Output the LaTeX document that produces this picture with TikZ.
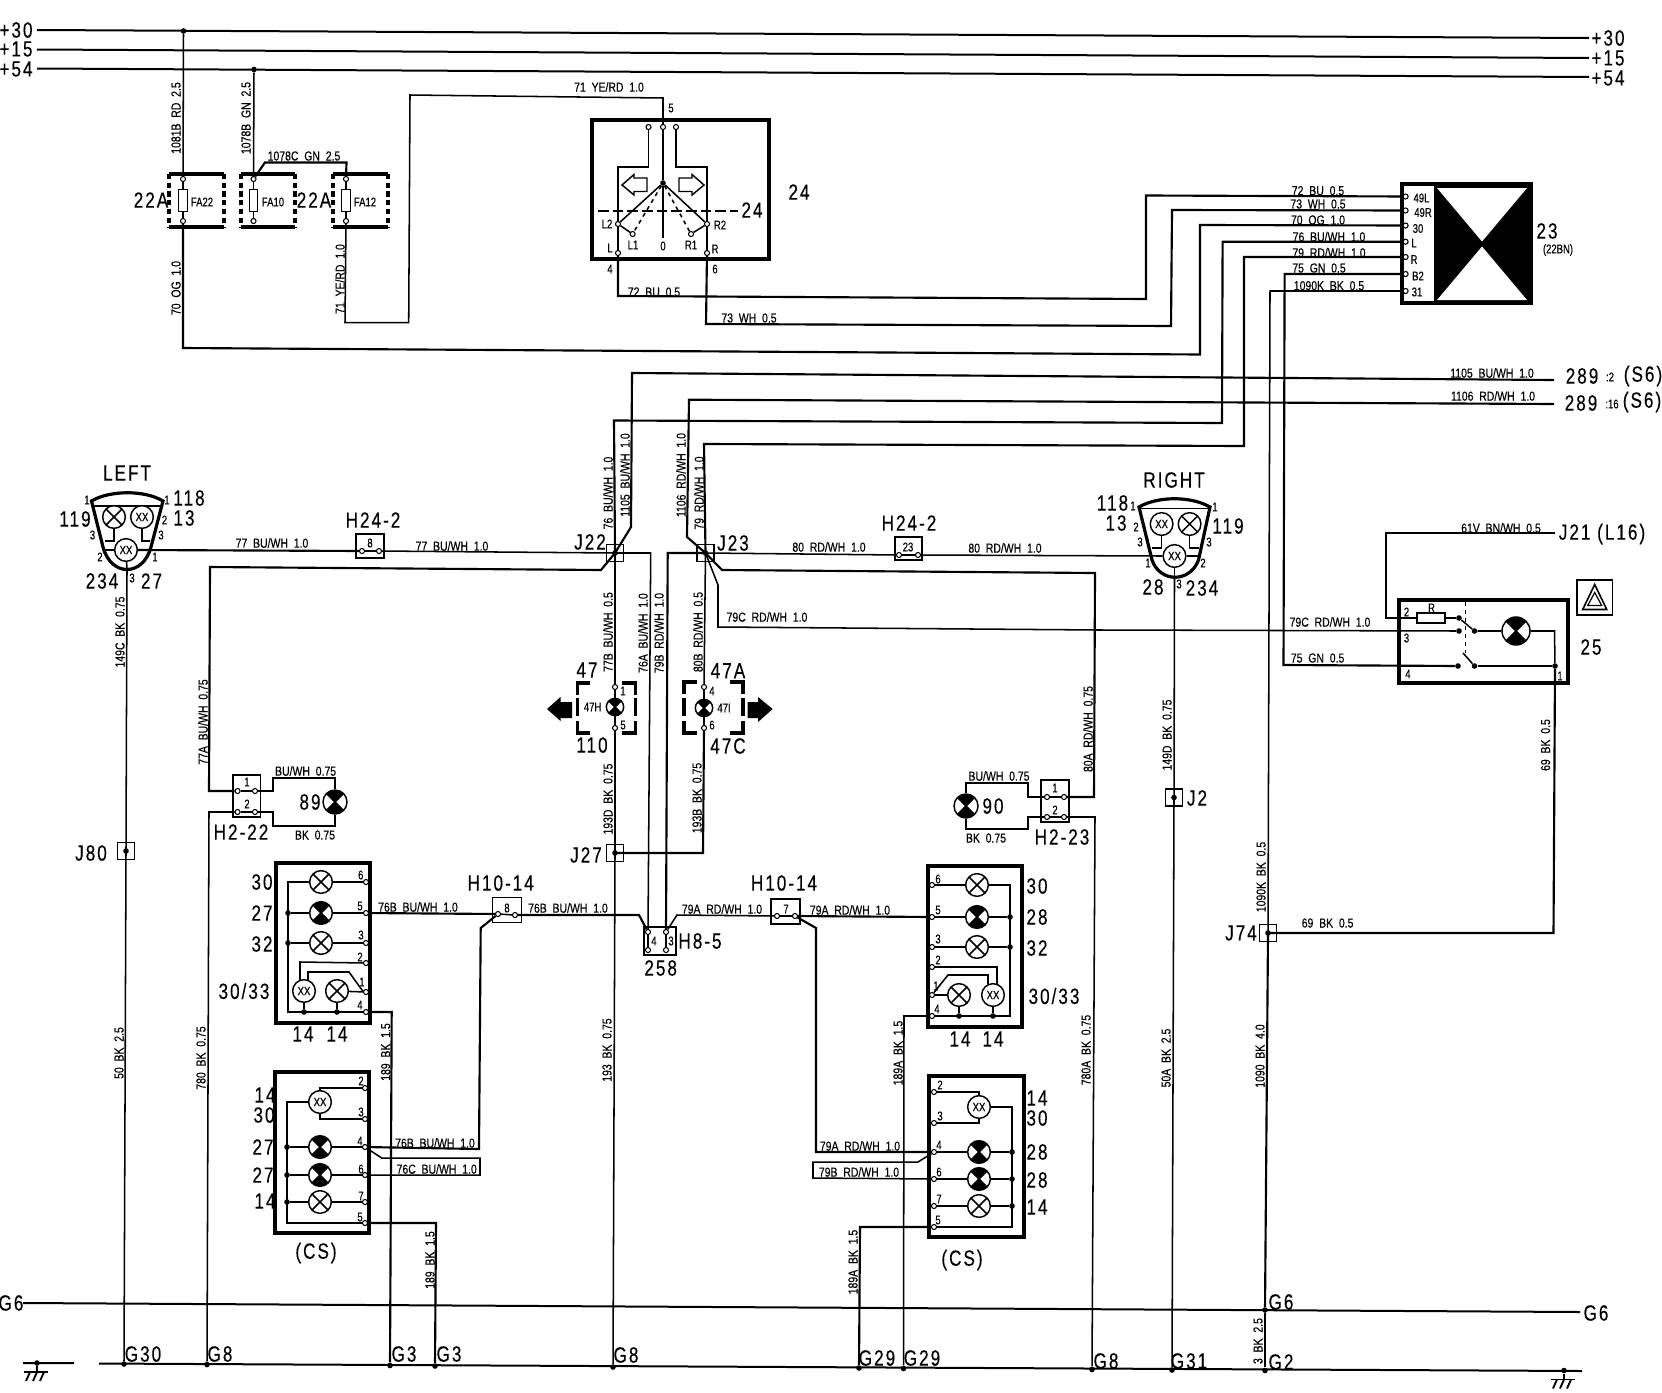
\documentclass[tikz,border=0pt]{standalone}
\usepackage{fontspec}
\setmainfont[FakeStretch=0.8,WordSpace=2,FakeBold=0.35]{Liberation Sans}
\newfontfamily\bigfont[FakeStretch=0.78,LetterSpace=9,FakeBold=0.25]{Liberation Sans}
\newfontfamily\smfont[FakeStretch=0.75,FakeBold=0.3]{Liberation Sans}
\newcounter{lab}
\tikzset{
 wire/.style={line width=1.15pt},
 hwire/.style={line width=1.6pt},
 busline/.style={line width=1.5pt},
 heavy/.style={line width=2.7pt},
 wl/.style={inner sep=0pt,font=\fontsize{9.8}{10}\selectfont},
 sl/.style={inner sep=0pt,font=\smfont\fontsize{9.5}{10}\selectfont},
 bl/.style={inner sep=0pt,font=\bigfont\fontsize{16.5}{17}\selectfont},
 term/.style={circle,draw,fill=white,line width=0.8pt,inner sep=0pt,minimum size=3.8pt},
 sdot/.style={circle,fill=black,inner sep=0pt,minimum size=4.2pt},
 jbox/.style={rectangle,draw,line width=1.1pt,inner sep=0pt,minimum size=12.5pt},
 hbox/.style={rectangle,draw,line width=1.1pt,inner sep=0pt},
 panel/.style={rectangle,draw,line width=2.7pt,inner sep=0pt},
 lampx/.style={circle,draw,line width=1.1pt,fill=white,inner sep=0pt,minimum size=#1,
   path picture={\draw[line width=1.1pt] (path picture bounding box.north west)--(path picture bounding box.south east)
      (path picture bounding box.north east)--(path picture bounding box.south west);}},
 lampx/.default=17pt,
 lampd/.style={circle,draw,line width=1.1pt,fill=white,inner sep=0pt,minimum size=#1,
   path picture={\fill[black] (path picture bounding box.center)--(path picture bounding box.north west)--(path picture bounding box.north east)--cycle
      (path picture bounding box.center)--(path picture bounding box.south west)--(path picture bounding box.south east)--cycle;
      \draw[line width=1.1pt] (path picture bounding box.north west)--(path picture bounding box.south east)
      (path picture bounding box.north east)--(path picture bounding box.south west);}},
 lampd/.default=17pt,
 lampxx/.style={circle,draw,line width=1.1pt,fill=white,inner sep=0pt,minimum size=17pt,font=\fontsize{9}{9}\selectfont},
}
\newcommand{\wirelab}[3]{\stepcounter{lab}\node[wl](lab\thelab) at (#1,#2) {#3};}
\newcommand{\wirevert}[3]{\stepcounter{lab}\node[wl,rotate=90](lab\thelab) at (#1,#2) {#3};}
\newcommand{\smlab}[3]{\stepcounter{lab}\node[sl](lab\thelab) at (#1,#2) {#3};}
\newcommand{\biglab}[3]{\stepcounter{lab}\node[bl](lab\thelab) at (#1,#2) {#3};}
\newcommand{\tm}[3]{\node[term](#1) at (#2,#3) {};}
\newcommand{\jn}[3]{\node[jbox](#1) at (#2,#3) {};\node[sdot] (#1d) at (#2,#3) {};}
\newcommand{\fusebox}[6]{% name x0 x1 termx text textx
 \node[minimum width=#3*0.75pt-#2*0.75pt,minimum height=39.75pt,inner sep=0pt] (#1) at ({(#2+#3)/2},200.5) {};
 \draw[heavy] (#1.north west)--(#1.north east) (#1.south west)--(#1.south east);
 \draw[heavy,dash pattern=on 4pt off 2.6pt] (#1.north west)--(#1.south west) (#1.north east)--(#1.south east);
 \node[rectangle,draw,line width=.9pt,fill=white,minimum width=6.5pt,minimum height=17pt,inner sep=0pt] (#1f) at (#4,200.5) {};
 \tm{#1a}{#4}{179}\tm{#1b}{#4}{221}
 \draw[wire] (#1a)--(#1f) (#1f)--(#1b);
 \smlab{#6}{202}{#5}
}
\newcommand{\gnd}[3]{% name x y
 \node[sdot] (#1) at (#2,#3) {};
 \draw[wire] (#1)--(#2,#3+9);
 \draw[line width=1.4pt] (#2-13,#3+9)--(#2+11,#3+9);
 \draw[line width=1.4pt] (#2-7,#3+9)--(#2-11,#3+18) (#2,#3+9)--(#2-4,#3+18) (#2+7,#3+9)--(#2+3,#3+18);
}
\begin{document}
\begin{tikzpicture}[x=0.75pt,y=-0.75pt]
\useasboundingbox (0,0) rectangle (1662,1392);
% ---------- buses
\coordinate (b30l) at (37,30); \coordinate (b30r) at (1589,38);
\coordinate (b15l) at (37,49.5); \coordinate (b15r) at (1589,58);
\coordinate (b54l) at (37,68.5); \coordinate (b54r) at (1589,77);
\draw[busline] (b30l)--(b30r) (b15l)--(b15r) (b54l)--(b54r);
\biglab{16}{30}{+30}\biglab{16}{49}{+15}\biglab{16}{69}{+54}
\biglab{1608}{38}{+30}\biglab{1608}{58}{+15}\biglab{1608}{78}{+54}
% grounds & G6
\coordinate (g6l) at (23,1303); \coordinate (g6r) at (1580,1312);
\draw[busline] (g6l)--(g6r);
\coordinate (gl0) at (23,1363); \coordinate (gl1) at (74,1363); \coordinate (gl2) at (99,1363.5); \coordinate (gl3) at (1582,1371);
\draw[busline] (gl0)--(gl1) (gl2)--(gl3);
\gnd{gndL}{37}{1363}\gnd{gndR}{1564}{1370.5}
\biglab{11}{1303}{G6}\biglab{1281}{1302}{G6}\biglab{1596}{1313}{G6}
\biglab{143}{1354}{G30}\biglab{220}{1354}{G8}\biglab{404}{1354}{G3}\biglab{449}{1354}{G3}
\biglab{626}{1355}{G8}\biglab{877}{1358}{G29}\biglab{922}{1358}{G29}
\biglab{1106}{1361}{G8}\biglab{1189}{1361}{G31}\biglab{1281}{1362}{G2}
\node[sdot] (g30) at (124,1364) {};\node[sdot] (g8a) at (207,1364.5) {};\node[sdot] (g3a) at (390,1365.5) {};\node[sdot] (g3b) at (435,1366) {};
\node[sdot] (g8b) at (613,1367) {};\node[sdot] (g29a) at (859,1368) {};\node[sdot] (g29b) at (903.5,1368.5) {};
\node[sdot] (g8c) at (1092,1369.5) {};\node[sdot] (g31) at (1172,1370) {};\node[sdot] (g2) at (1265,1370.5) {};\node[sdot] (g6j) at (1265,1310) {};
% ---------- fuses
\fusebox{FA22}{169}{224}{183}{FA22}{202}
\fusebox{FA10}{241}{295}{253.5}{FA10}{273}
\fusebox{FA12}{333.5}{388}{346}{FA12}{365}
\biglab{151}{200}{22A}\biglab{314}{200}{22A}
\node[sdot] (d30) at (183.5,31) {};\node[sdot] (d54) at (254,69.5) {};
\draw[wire] (d30)--(FA22a);
\draw[wire] (d54)--(FA10a);
\draw[hwire] (FA10a)--(265,162.5)--(346.5,162.5)--(FA12a);
\wirevert{176}{118}{1081B RD 2.5}\wirevert{246}{118}{1078B GN 2.5}\wirelab{304}{156}{1078C GN 2.5}
\wirevert{176}{288}{70 OG 1.0}\wirevert{340}{279}{71 YE/RD 1.0}
\wirelab{609}{87}{71 YE/RD 1.0}
\smlab{671}{108}{5}
% ---------- switch 24
\node[panel,minimum width=132.75pt,minimum height=104.25pt] (S24) at (680.5,189.5) {};
\tm{s1}{648.5}{127}\tm{s5}{663}{127}\tm{s2}{676}{127}
\tm{sL}{618}{253}\tm{sR}{707}{253}\tm{sL2}{618}{224}\tm{sR2}{707}{224}\tm{sL1}{632.6}{234}\tm{sR1}{691}{234}
\node[sdot] (sc) at (663,183) {};
\coordinate (sb) at (663,238);
\draw[wire] (s1)--(648.5,167)--(618,167)--(sL2) (sL2)--(sL);
\draw[wire] (s2)--(676,167)--(707,167)--(sR2) (sR2)--(sR);
\draw[wire] (s5)--(sc);
\draw[line width=2.2pt] (sc)--(sb);
\draw[wire] (sc)--(sL2) (sc)--(sR2) (sL2)--(sL1) (sR2)--(sR1);
\draw[wire,dashed] (sc)--(sL1) (sc)--(sR1);
\draw[line width=1.1pt] (647,178)--(634,178)--(634,174.5)--(622,185)--(634,195)--(634,191.5)--(647,191.5)--cycle;
\draw[line width=1.1pt] (679,178)--(692,178)--(692,174.5)--(704,185)--(692,195)--(692,191.5)--(679,191.5)--cycle;
\coordinate (sdl) at (598,211); \coordinate (sdr) at (738,211);
\draw[hwire,dash pattern=on 8pt off 3pt on 8pt off 3pt] (sdl)--(sdr);
\biglab{752}{210}{24}\biglab{799}{192}{24}
\smlab{607}{224}{L2}\smlab{720}{225}{R2}\smlab{633}{245}{L1}\smlab{663}{246}{0}\smlab{691}{245}{R1}\smlab{610}{248}{L}\smlab{715}{249}{R}\smlab{610}{269}{4}\smlab{715}{269}{6}
\draw[wire] (FA12b)--(345,322.7)--(408.7,322.7)--(410,95)--(663,98)--(s5);
\draw[hwire] (FA22b)--(183,348)--(1200,354.5)--(1200,225)--(1405,225.5);
% ---------- component 23
\node[panel,minimum width=96.75pt,minimum height=89.25pt] (C23) at (1466.5,243.5) {};
\fill (1435,184)--(1531,184)--(1531,303)--(1435,303)--cycle;
\fill[white] (1437,188)--(1527,188)--(1482,241.5)--cycle (1482,246.5)--(1527,300)--(1437,300)--cycle;
\draw[line width=1.1pt] (1435,184)--(1435,303);
\tm{c49L}{1405.6}{196.5}\tm{c49R}{1405.6}{210.5}\tm{c30}{1405.6}{225.5}\tm{cL}{1405.6}{241.7}\tm{cRr}{1405.6}{257}\tm{cB2}{1405.6}{274}\tm{c31}{1405.6}{291}
\smlab{1421.5}{198}{49L}\smlab{1423}{212.5}{49R}\smlab{1418}{228.5}{30}\smlab{1414}{243}{L}\smlab{1414}{259.5}{R}\smlab{1418}{276}{B2}\smlab{1417}{292}{31}
\biglab{1547}{231}{23}\smlab{1558}{250}{(22BN)}
\draw[hwire] (sL)--(618,296)--(1146,299)--(1146,195.5)--(c49L);
\draw[hwire] (sR)--(706,324)--(1171,326)--(1172,210)--(c49R);
\wirelab{654}{292}{72 BU 0.5}\wirelab{749}{318}{73 WH 0.5}
\wirelab{1318}{190.7}{72 BU 0.5}\wirelab{1318}{204}{73 WH 0.5}\wirelab{1318}{220}{70 OG 1.0}\wirelab{1329}{236.7}{76 BU/WH 1.0}\wirelab{1329}{252.7}{79 RD/WH 1.0}\wirelab{1319}{268}{75 GN 0.5}\wirelab{1329}{285.7}{1090K BK 0.5}
% ---------- junctions
\jn{J22}{615}{553}\jn{J23}{705.5}{553}\jn{J27}{615}{853}\jn{J80}{126}{851}\jn{J2}{1174}{797.5}\jn{J74}{1268}{933}
\biglab{590}{542}{J22}\biglab{733}{543}{J23}\biglab{586}{855}{J27}\biglab{91}{853}{J80}\biglab{1197}{798}{J2}\biglab{1241}{933}{J74}
\draw[hwire] (cL)--(1222.6,241.7)--(1222,423)--(614,420.5)--(J22.center);
\draw[hwire] (cRr)--(1244,257)--(1244,446)--(704,444)--(J23.center);
\coordinate (end1105) at (1554,380);\coordinate (end1106) at (1554,404);
\draw[hwire] (J22.center)--(631,527)--(632,373)--(end1105);
\draw[hwire] (J23.center)--(687,537)--(689,399.7)--(end1106);
\wirelab{1492}{373}{1105 BU/WH 1.0}\wirelab{1493}{396}{1106 RD/WH 1.0}
\biglab{1582}{376}{289}\smlab{1610}{377}{:2}\biglab{1643}{376}{(S6)}
\biglab{1581}{403}{289}\smlab{1612}{404}{:16}\biglab{1642}{402}{(S6)}
\wirevert{608}{493}{76 BU/WH 1.0}\wirevert{625}{475}{1105 BU/WH 1.0}\wirevert{681}{475}{1106 RD/WH 1.0}\wirevert{699}{493}{79 RD/WH 1.0}
% ---------- left lamp group
\draw[line width=2.4pt] (91.5,501) .. controls (110,490) and (145,490) .. (163,501) -- (151,547) .. controls (143,577) and (111,577) .. (103,547) -- cycle;
\draw[wire] (92,506)--(162,506);
\node[lampx] (LLa) at (114,517) {};\node[lampxx] (LLb) at (142,517) {XX};\node[lampxx] (LLc) at (126,550) {XX};
\draw[wire] (LLa)--(114,541)--(105,541) (LLb)--(142,541)--(150,541) (LLc.west)--(103,550);
\coordinate (LLs) at (127,570);
\draw[wire] (LLc)--(LLs);
\biglab{127}{473}{LEFT}\smlab{87}{500}{1}\biglab{189}{498}{118}\smlab{167}{500}{1}\biglab{75}{519}{119}\biglab{184}{518}{13}\smlab{164.5}{520}{2}\smlab{92.5}{535}{3}\smlab{161}{535}{3}\smlab{100}{557}{2}\smlab{155}{557}{1}\biglab{102}{581}{234}\smlab{132}{578}{3}\biglab{151.5}{581}{27}
% H24-2 left
\node[hbox,minimum width=21pt,minimum height=18pt] (H24a) at (370,546) {};
\tm{H24at}{362}{551}\tm{H24bt}{379}{551}\draw[wire] (H24at)--(H24bt);
\smlab{370}{543}{8}\biglab{373}{520}{H24-2}
\draw[hwire] (LLc.east)--(H24at);
\draw[wire] (H24bt)--(J22.center);
\wirelab{272}{543}{77 BU/WH 1.0}\wirelab{452}{546}{77 BU/WH 1.0}
\draw[wire] (LLs)--(J80.center);\draw[wire] (J80.center)--(g30);
\wirevert{120}{632}{149C BK 0.75}\wirevert{119}{1053}{50 BK 2.5}
% H2-22
\node[hbox,minimum width=20.6pt,minimum height=31.5pt] (H222) at (246.7,796) {};
\tm{h22a}{237.6}{791}\tm{h22b}{255}{791}\tm{h22c}{237.6}{812}\tm{h22d}{255}{812}
\draw[wire] (h22a)--(h22b) (h22c)--(h22d);
\smlab{247}{782}{1}\smlab{247}{804}{2}\biglab{241}{832}{H2-22}
\draw[hwire] (J22.center)--(601,570)--(210,567)--(209,791)--(h22a);
\wirevert{203}{722}{77A BU/WH 0.75}
\node[lampd=18pt] (L89) at (335,802) {};
\draw[wire] (h22b)--(273,791)--(273,778)--(335,778)--(L89);
\draw[wire] (L89)--(335,826)--(273,826)--(273,812)--(h22d);
\wirelab{305.6}{771}{BU/WH 0.75}\wirelab{315}{835}{BK 0.75}\biglab{310}{802}{89}
\draw[wire] (h22c)--(209,812)--(g8a);
\wirevert{201}{1058}{780 BK 0.75}
% lamp 47H
\node[lampd=13pt] (L47H) at (615,707) {};
\tm{t47a}{615}{687}\tm{t47b}{615}{728}
\draw[wire] (J22.center)--(t47a);\draw[wire] (t47a)--(L47H)--(t47b);\draw[wire] (t47b)--(J27.center);\draw[wire] (J27.center)--(g8b);
\coordinate (b47a) at (577.5,683);\coordinate (b47b) at (635.6,683);\coordinate (b47c) at (635.6,733);\coordinate (b47d) at (577.5,733);
\draw[heavy] (590,683)--(b47a)--(577.5,695) (622,683)--(b47b)--(635.6,695) (635.6,721)--(b47c)--(622,733) (590,733)--(b47d)--(577.5,721) (577.5,698)--(577.5,716) (635.6,698)--(635.6,716);
\biglab{587}{670}{47}\biglab{592}{745}{110}\smlab{592.6}{707}{47H}\smlab{623}{691}{1}\smlab{623}{725}{5}
\fill (547,709)--(560.5,697)--(560.5,702)--(572,702)--(572,718)--(560.5,718)--(560.5,721)--cycle;
\wirevert{608}{632}{77B BU/WH 0.5}\wirevert{608}{799}{193D BK 0.75}\wirevert{607}{1050}{193 BK 0.75}
% lamp 47I
\node[lampd=13pt] (L47I) at (704,708) {};
\tm{t47c}{704}{687}\tm{t47d}{704}{728}
\draw[wire] (J23.center)--(t47c);\draw[wire] (t47c)--(L47I)--(t47d);
\draw[hwire] (t47d)--(703,853)--(J27.center);
\coordinate (b47e) at (684,682);\coordinate (b47f) at (742.7,682);\coordinate (b47g) at (742.7,733);\coordinate (b47h) at (684,733);
\draw[heavy] (697,682)--(b47e)--(684,694) (730,682)--(b47f)--(742.7,694) (742.7,721)--(b47g)--(730,733) (697,733)--(b47h)--(684,721) (684,698)--(684,716) (742.7,698)--(742.7,716);
\biglab{728}{670.7}{47A}\biglab{728}{746}{47C}\smlab{724}{708}{47I}\smlab{712}{691}{4}\smlab{712}{725}{6}
\fill (772.7,709)--(758,697)--(758,702)--(747.7,702)--(747.7,718)--(758,718)--(758,722)--cycle;
\wirevert{698}{632}{80B RD/WH 0.5}\wirevert{697}{798}{193B BK 0.75}
% H8-5
\node[hbox,minimum width=24pt,minimum height=21pt] (H85) at (660,941) {};
\tm{h8a}{648}{932}\tm{h8b}{648}{950}\tm{h8c}{666}{932}\tm{h8d}{666}{950}
\draw[wire] (h8a)--(h8b) (h8c)--(h8d);
\smlab{654}{941}{4}\smlab{671}{941}{3}\biglab{700}{941}{H8-5}\biglab{660.7}{968}{258}
\draw[wire] (J22.center)--(650.7,553)--(h8a);
\draw[hwire] (J23.center)--(667.7,553)--(h8c);
\wirevert{643}{633}{76A BU/WH 1.0}\wirevert{659}{633}{79B RD/WH 1.0}
% right of J23
\node[hbox,minimum width=20.5pt,minimum height=17.5pt] (H24b) at (908.5,548.5) {};
\tm{H24ct}{899}{555}\tm{H24dt}{918}{555}\draw[wire] (H24ct)--(H24dt);
\smlab{908}{547}{23}\biglab{909}{523}{H24-2}
\draw[wire] (J23.center)--(H24ct);
\wirelab{829}{547}{80 RD/WH 1.0}\wirelab{1005}{548}{80 RD/WH 1.0}
\draw[hwire] (J23.center)--(722,570)--(1095,573)--(1094,797)--(1064,797);
\wirevert{1088}{729}{80A RD/WH 0.75}
\wirelab{767}{617}{79C RD/WH 1.0}\wirelab{1330}{622}{79C RD/WH 1.0}
% H2-23 and lamp 90
\node[hbox,minimum width=21pt,minimum height=31.5pt] (H223) at (1055,801) {};
\tm{h23a}{1047}{797}\tm{h23b}{1064}{797}\tm{h23c}{1047}{817}\tm{h23d}{1064}{817}
\draw[wire] (h23a)--(h23b) (h23c)--(h23d);
\smlab{1055}{788}{1}\smlab{1055}{810}{2}\biglab{1062}{837}{H2-23}
\node[lampd=18pt] (L90) at (966,806) {};
\draw[wire] (L90)--(966,783)--(1028,783)--(1028,797)--(h23a);
\draw[wire] (L90)--(966,829)--(1028,829)--(1028,817)--(h23c);
\biglab{993}{806}{90}\wirelab{999}{776}{BU/WH 0.75}\wirelab{986}{838}{BK 0.75}
\draw[wire] (h23d)--(1095,817)--(g8c);
\wirevert{1086}{1050}{780A BK 0.75}
% right lamp group
\draw[line width=2.4pt] (1139,507) .. controls (1158,496) and (1191,496) .. (1210,507) -- (1198.5,560) .. controls (1190,583) and (1160,583) .. (1152,560) -- cycle;
\draw[wire] (1140,508.5)--(1209,508.5);
\node[lampxx] (LRa) at (1161.6,524) {XX};\node[lampx] (LRb) at (1189.6,524) {};\node[lampxx] (LRc) at (1174.5,556) {XX};
\draw[wire] (LRa)--(1161.6,548)--(1152,548) (LRb)--(1189.6,548)--(1199,548) (LRc.east)--(1199,556);
\coordinate (LRs) at (1174.5,577);
\draw[wire] (LRc)--(LRs);
\draw[wire] (H24dt)--(LRc.west);
\draw[wire] (LRs)--(J2.center);\draw[wire] (J2.center)--(g31);
\biglab{1174}{480}{RIGHT}\biglab{1112.5}{503}{118}\smlab{1133}{506}{1}\biglab{1116}{523}{13}\smlab{1136}{527}{2}\smlab{1140}{542}{3}\smlab{1215}{507}{1}\biglab{1228}{526}{119}\smlab{1209}{542}{3}\smlab{1148}{563}{1}\smlab{1203}{563}{2}\biglab{1153}{587}{28}\smlab{1179}{584}{3}\biglab{1202}{588}{234}
\wirevert{1167}{735}{149D BK 0.75}\wirevert{1166}{1058}{50A BK 2.5}
% ---------- component 25
\node[panel,minimum width=126.75pt,minimum height=62.25pt] (C25) at (1483.5,641.5) {};
\node[rectangle,draw,line width=1.1pt,fill=white,minimum width=21pt,minimum height=7.5pt,inner sep=0pt] (R25) at (1431,618) {};
\node[sdot] (k1) at (1459,618) {};\node[sdot] (k2) at (1459,631) {};\node[sdot] (k3) at (1474.5,631) {};
\node[sdot] (k4) at (1458,666) {};\node[sdot] (k5) at (1474.5,666) {};\node[sdot] (k6) at (1555,666) {};
\node[lampd=21pt] (L25) at (1516,631) {};
\coordinate (J21e) at (1555,533);
\draw[wire] (J21e)--(1386,533)--(1386,618)--(R25);
\draw[wire] (R25)--(k1)--(k3);
\draw[wire] (k3)--(L25)--(1554.5,631)--(k6);
\draw[line width=1.8pt] (k5)--(k6);
\draw[wire] (1463,653)--(k5);
\draw[wire,dashed] (1465.6,602)--(1465.6,653);
\draw[wire] (J23.center)--(718,585)--(718,627)--(1100,630)--(k2);
\draw[hwire] (cB2)--(1284.6,274)--(1283.5,665)--(k4);
\smlab{1406.5}{612}{2}\smlab{1406.5}{638}{3}\smlab{1408}{674}{4}\smlab{1560}{676}{1}\smlab{1431.5}{608}{R}
\biglab{1591}{647}{25}\wirelab{1501}{528}{61V BN/WH 0.5}\biglab{1602}{534}{J21 (L16)}\wirelab{1317.6}{658}{75 GN 0.5}
\node[rectangle,draw,line width=1.1pt,minimum width=26.5pt,minimum height=26pt,inner sep=0pt] (warn) at (1594.7,597.5) {};
\draw[line width=1.2pt] (warn.center)+(0,-13)--+(-12,12)--+(12,12)--cycle;
\draw[line width=.9pt] (warn.center)+(0,-5)--+(-7,8)--+(7,8)--cycle;
% wire 69, 1090
\draw[wire] (c31)--(1270,291)--(J74.center);
\draw[hwire] (k6)--(1553.5,933)--(J74.center);
\draw[hwire] (J74.center)--(g6j);
\draw[wire] (g6j)--(g2);
\wirevert{1545.5}{745}{69 BK 0.5}\wirelab{1327.6}{923}{69 BK 0.5}\wirevert{1261}{877}{1090K BK 0.5}\wirevert{1260}{1056}{1090 BK 4.0}\wirevert{1258}{1341}{3 BK 2.5}
% ---------- panel A
\node[panel,minimum width=70.5pt,minimum height=120pt] (PA) at (323,943) {};
\tm{a6}{366}{882}\tm{a5}{366}{913}\tm{a3}{366}{943}\tm{a2}{366}{963}\tm{a1}{366}{992}\tm{a4}{366}{1012}
\node[lampx] (pa1) at (321,882) {};\node[lampd] (pa2) at (321,913) {};\node[lampx] (pa3) at (321,943) {};
\node[lampxx] (pa4) at (304,991) {XX};\node[lampx] (pa5) at (337,991) {};
\node[sdot] (pad1) at (288,913) {};\node[sdot] (pad2) at (288,943) {};\node[sdot] (pad3) at (304,1012) {};\node[sdot] (pad4) at (337,1012) {};
\draw[hwire] (a6)--(pa1)--(288,882)--(288,1012)--(a4);
\draw[wire] (pad1)--(pa2)--(a5) (pad2)--(pa3)--(a3) (a2)--(300,962)--(300,980) (a1)--(362,990)--(349,972)--(308,972)--(308,981) (pa5)--(a1) (pa4)--(pad3) (pa5)--(pad4);
\smlab{360.7}{875}{6}\smlab{360}{906}{5}\smlab{361}{935}{3}\smlab{360}{957}{2}\smlab{362}{982}{1}\smlab{360}{1005}{4}
\biglab{262}{882}{30}\biglab{262}{913}{27}\biglab{262}{944}{32}\biglab{244}{991}{30/33}\biglab{303}{1034}{14}\biglab{337}{1034}{14}
\draw[hwire] (a4)--(391.7,1012)--(g3a);
\wirevert{385.7}{1052}{189 BK 1.5}
% H10-14 left
\node[hbox,minimum width=21.4pt,minimum height=18.7pt] (H10a) at (507,910) {};
\tm{h10a}{498}{914}\tm{h10b}{515}{915}\draw[wire] (h10a)--(h10b);
\smlab{507}{908}{8}\biglab{500.7}{883}{H10-14}
\draw[hwire] (a5)--(h10a);
\draw[hwire] (h10b)--(639,915)--(h8a);
\wirelab{418}{907}{76B BU/WH 1.0}\wirelab{568}{908}{76B BU/WH 1.0}
% panel B
\node[panel,minimum width=70.5pt,minimum height=120.7pt] (PB) at (322,1152.5) {};
\tm{b2}{365}{1088}\tm{b3}{365}{1119}\tm{b4}{365}{1147}\tm{b6}{365}{1175}\tm{b7}{365}{1202}\tm{b5}{365}{1223}
\node[lampxx] (pb1) at (320,1102) {XX};\node[lampd] (pb2) at (320,1147) {};\node[lampd] (pb3) at (320,1175) {};\node[lampx] (pb4) at (320,1202) {};
\node[sdot] (pbd1) at (287,1147) {};\node[sdot] (pbd2) at (287,1175) {};\node[sdot] (pbd3) at (287,1202) {};
\draw[hwire] (pb1)--(287,1102)--(287,1223)--(b5);
\draw[wire] (pb1)--(320,1088)--(b2) (pb1)--(320,1119)--(b3) (pbd1)--(pb2)--(b4) (pbd2)--(pb3)--(b6) (pbd3)--(pb4)--(b7);
\smlab{361}{1081}{2}\smlab{361}{1112}{3}\smlab{360}{1141}{4}\smlab{361}{1169}{6}\smlab{361}{1196}{7}\smlab{360}{1217}{5}
\biglab{265}{1095}{14}\biglab{264}{1115}{30}\biglab{263}{1147}{27}\biglab{263}{1175}{27}\biglab{265}{1201}{14}\biglab{316}{1253}{(CS)}
\draw[hwire] (b4)--(479,1149)--(480.7,928)--(h10a);
\draw[wire] (b4)--(381.7,1158)--(480,1158)--(480,1175)--(b6);
\draw[hwire] (b5)--(436,1223)--(g3b);
\wirelab{435}{1143}{76B BU/WH 1.0}\wirelab{436.7}{1169}{76C BU/WH 1.0}\wirevert{430}{1260}{189 BK 1.5}
% H10-14 right
\node[hbox,minimum width=21.7pt,minimum height=18.7pt] (H10b) at (785.5,911.5) {};
\tm{h10c}{777}{916}\tm{h10d}{795}{916}\draw[wire] (h10c)--(h10d);
\smlab{786}{909}{7}\biglab{784}{883}{H10-14}
\draw[wire] (h8c)--(677,915)--(h10c);
\wirelab{722}{909}{79A RD/WH 1.0}\wirelab{850}{910}{79A RD/WH 1.0}
% panel C
\node[panel,minimum width=70.5pt,minimum height=120.7pt] (PC) at (974.7,946.5) {};
\tm{c6t}{932}{885}\tm{c5t}{932}{917}\tm{c3t}{932}{947}\tm{c2t}{932}{967}\tm{c1t}{932}{995}\tm{c4t}{932}{1016}
\node[lampx] (pc1) at (977,885) {};\node[lampd] (pc2) at (977,917) {};\node[lampx] (pc3) at (977,947) {};
\node[lampx] (pc4) at (959,995) {};\node[lampxx] (pc5) at (993,995) {XX};
\node[sdot] (pcd1) at (1010,917) {};\node[sdot] (pcd2) at (1010,947) {};\node[sdot] (pcd3) at (959,1016) {};\node[sdot] (pcd4) at (993,1016) {};
\draw[hwire] (h10d)--(c5t);
\draw[wire] (c6t)--(pc1);\draw[hwire] (pc1)--(1010,885)--(1010,1016)--(c4t);
\draw[wire] (c5t)--(pc2)--(pcd1) (c3t)--(pc3)--(pcd2) (c2t)--(997,967)--(997,984) (c1t)--(pc4) (c1t)--(948,975)--(988,975)--(988,984) (pc4)--(pcd3) (pc5)--(pcd4);
\smlab{938}{879}{6}\smlab{938}{910}{5}\smlab{938}{939}{3}\smlab{938}{960}{2}\smlab{936}{986}{1}\smlab{937}{1009}{4}
\biglab{1037}{886}{30}\biglab{1037}{917}{28}\biglab{1037}{948}{32}\biglab{1054}{996}{30/33}\biglab{960}{1039}{14}\biglab{993}{1039}{14}
\draw[wire] (c4t)--(904,1016)--(g29b);
\wirevert{898}{1053}{189A BK 1.5}
% panel D
\node[panel,minimum width=71.2pt,minimum height=120.7pt] (PD) at (976.5,1156.5) {};
\tm{d2}{934}{1092}\tm{d3}{934}{1123}\tm{d4}{934}{1152}\tm{d6}{934}{1179}\tm{d7}{934}{1206}\tm{d5}{934}{1227}
\node[lampxx] (pd1) at (979,1107) {XX};\node[lampd] (pd2) at (979,1152) {};\node[lampd] (pd3) at (979,1179) {};\node[lampx] (pd4) at (979,1206) {};
\node[sdot] (pdd1) at (1012,1152) {};\node[sdot] (pdd2) at (1012,1179) {};\node[sdot] (pdd3) at (1012,1206) {};
\draw[hwire] (pd1)--(1012,1107)--(1012,1227)--(d5);
\draw[wire] (pd1)--(979,1092)--(d2) (pd1)--(979,1123)--(d3) (d4)--(pd2)--(pdd1) (d6)--(pd3)--(pdd2) (d7)--(pd4)--(pdd3);
\smlab{940}{1085}{2}\smlab{940}{1116}{3}\smlab{939}{1145}{4}\smlab{939}{1172}{6}\smlab{939}{1199}{7}\smlab{938}{1220}{5}
\biglab{1037}{1098}{14}\biglab{1037}{1118}{30}\biglab{1037}{1152}{28}\biglab{1037}{1180}{28}\biglab{1037}{1207}{14}\biglab{962}{1260}{(CS)}
\draw[hwire] (h10d)--(816,928)--(816,1152)--(d4);
\draw[wire] (d4)--(918,1162)--(813,1162)--(813,1178)--(d6);
\draw[hwire] (d5)--(860,1227)--(g29a);
\wirelab{860}{1146}{79A RD/WH 1.0}\wirelab{859}{1172}{79B RD/WH 1.0}\wirevert{853}{1262}{189A BK 1.5}
\end{tikzpicture}
\end{document}
